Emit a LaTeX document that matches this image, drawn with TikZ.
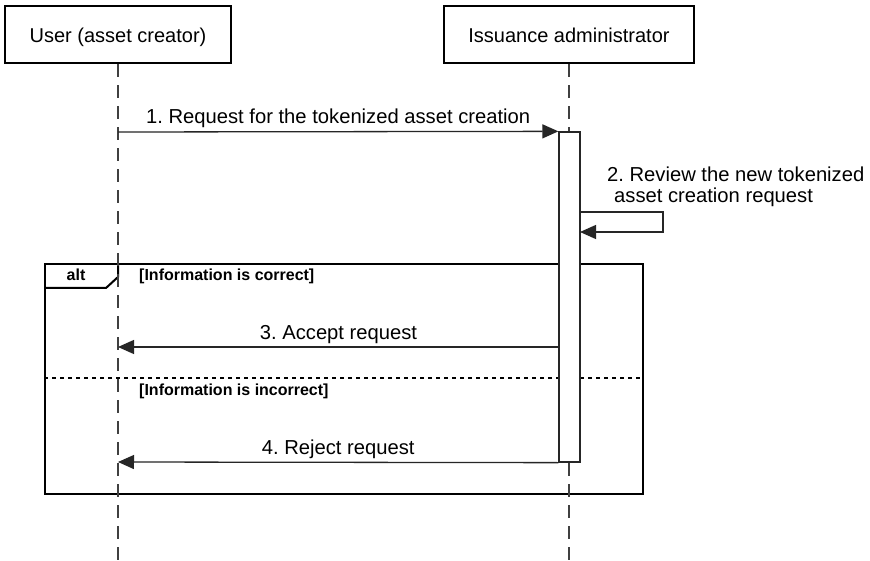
\documentclass[tikz,border=0pt]{standalone}
\usepackage{fontspec}
\setmainfont{Liberation Sans}
\usetikzlibrary{arrows.meta}
\frenchspacing
\begin{document}
\begin{tikzpicture}[x=1pt,y=-1pt,
  actor/.style={draw=black, line width=2.4pt, fill=white, minimum height=57pt, text height=17pt, text depth=0pt, inner sep=0pt, font=\fontsize{20}{23}\selectfont},
  life/.style={draw=black!75, line width=1.5pt, dash pattern=on 13pt off 8pt},
  msg/.style={draw=black!85, line width=1.3pt, -{Triangle[length=16pt,width=14pt]}},
  mlabel/.style={font=\fontsize{20.2}{21}\selectfont, inner sep=0pt, anchor=base},
  guard/.style={font=\fontsize{16}{18}\selectfont\bfseries, inner sep=0pt, anchor=base west},
  framebox/.style={draw=black, line width=2.4pt},
]
\useasboundingbox[fill=white] (0,0) rectangle (870,561);

% alt frame
\node[framebox, minimum width=598pt, minimum height=230pt, inner sep=0pt, anchor=north west] (altbox) at (44,263) {};
\draw[black, line width=2pt] (44,288) -- (106,288) -- (118,277) -- (118,263);
\node[guard, anchor=base] (altlbl) at (76,281) {alt};
\node[guard] (g1) at (139,281) {[Information is correct]};
\node[guard] (g2) at (139,395) {[Information is incorrect]};
\draw[black, line width=2pt, dash pattern=on 4pt off 4pt] (44,378) -- (642,378);

% actors and lifelines
\node[actor, minimum width=226pt] (user) at (118,34.5) {User (asset creator)};
\node[actor, minimum width=250pt] (admin) at (569,34.5) {Issuance administrator};
\coordinate (uend) at (118,561);
\coordinate (aend) at (569,561);
\draw[life] (user.south) -- (uend);
\draw[life] (admin.south) -- (aend);

% activation bar
\node[draw=black!85, line width=1.3pt, fill=white, minimum width=21pt, minimum height=330pt, inner sep=0pt] (act) at (569.5,297) {};

% message 1
\coordinate (m1s) at (118,132);
\draw[msg] (m1s) -- (act.north west) node[midway, mlabel, yshift=8pt] (l1) {1. Request for the tokenized asset creation};

% message 2 (self)
\coordinate (s1) at (580,212);
\coordinate (s2) at (580,232);
\draw[msg] (s1) -- (663,212) -- (663,232) -- (s2);
\node[mlabel, anchor=base west] (l2a) at (607,182) {2. Review the new tokenized};
\node[mlabel, anchor=base west] (l2b) at (614,203) {asset creation request};

% message 3
\coordinate (m3s) at (559,347);
\coordinate (m3e) at (118,347);
\draw[msg] (m3s) -- (m3e) node[midway, mlabel, yshift=8pt] (l3) {3. Accept request};

% message 4
\coordinate (m4e) at (118,462);
\draw[msg] (act.south west) -- (m4e) node[midway, mlabel, yshift=8pt] (l4) {4. Reject request};
\end{tikzpicture}
\end{document}
